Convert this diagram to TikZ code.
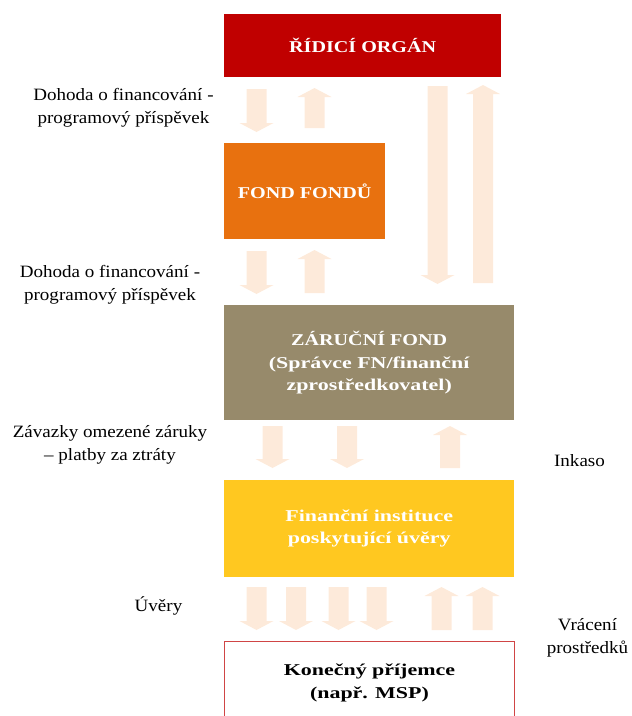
\documentclass[tikz,border=0pt]{standalone}
\usepackage{fontspec}
\setmainfont{Liberation Serif}[FakeStretch=1.1]
\newfontfamily\boxfont{Liberation Serif}[FakeStretch=1.22]
\newfontfamily\boxfontb{Liberation Serif}[FakeStretch=1.33]
\definecolor{roc}{HTML}{C00000}
\definecolor{ffc}{HTML}{E8710F}
\definecolor{zfc}{HTML}{978A6B}
\definecolor{fic}{HTML}{FFC820}
\definecolor{kpc}{HTML}{D04545}
\definecolor{arrc}{HTML}{FDEADA}
\newcommand\darr[3]{\fill[arrc] ({#1-10},#2) -- ({#1+10},#2) -- ({#1+10},{#3-9}) -- ({#1+17},{#3-9}) -- (#1,#3) -- ({#1-17},{#3-9}) -- ({#1-10},{#3-9}) -- cycle;}
\newcommand\uarr[3]{\fill[arrc] ({#1-10},#2) -- ({#1+10},#2) -- ({#1+10},{#3+9}) -- ({#1+17},{#3+9}) -- (#1,#3) -- ({#1-17},{#3+9}) -- ({#1-10},{#3+9}) -- cycle;}
\tikzset{
  box/.style={anchor=north west, inner sep=0pt, align=center, font=\boxfont\fontsize{16.5}{22.5}\selectfont\bfseries, text=white},
  boxb/.style={box, font=\boxfontb\fontsize{16.5}{22.5}\selectfont\bfseries},
  lbl/.style={inner sep=0pt, align=center, font=\fontsize{17.3}{22.5}\selectfont, text=black}
}
\begin{document}
\begin{tikzpicture}[x=1pt,y=-1pt]
\useasboundingbox (0,0) rectangle (632,716);
% arrows
\darr{256.5}{89}{132}
\uarr{314.5}{128}{88}
\darr{437.5}{86}{284}
\uarr{483}{283}{85}
\darr{256.5}{251}{294}
\uarr{314.5}{293}{250}
\darr{272.5}{426}{468}
\darr{347}{426}{468}
\uarr{450}{468}{426}
\darr{256.5}{587}{630}
\darr{296}{587}{630}
\darr{338.5}{587}{630}
\darr{376.5}{587}{630}
\uarr{441.5}{630}{587}
\uarr{482.5}{630}{587}
% boxes
\node[box, fill=roc, minimum width=277pt, minimum height=63pt] (ro) at (224,14) {ŘÍDICÍ ORGÁN};
\node[box, fill=ffc, minimum width=161pt, minimum height=96pt] (ff) at (224,143) {FOND FONDŮ};
\node[boxb, fill=zfc, minimum width=290pt, minimum height=115pt] (zf) at (224,305) {{\boxfont ZÁRUČNÍ FOND}\\(Správce FN/finanční\\zprostředkovatel)};
\node[boxb, fill=fic, minimum width=290pt, minimum height=97pt] (fi) at (224,480) {Finanční instituce\\poskytující úvěry};
\node[boxb, draw=kpc, line width=0.9pt, fill=white, text=black, minimum width=290pt, minimum height=83pt] (kp) at (224,641) {Konečný příjemce\\(např. MSP)};
% labels
\node[lbl] (l1) at (123.5,108) {Dohoda o financování -\\programový příspěvek};
\node[lbl] (l2) at (110,285) {Dohoda o financování -\\programový příspěvek};
\node[lbl] (l3) at (110,445) {Závazky omezené záruky\\– platby za ztráty};
\node[lbl] (l4) at (579.5,461) {Inkaso};
\node[lbl] (l5) at (158.5,606) {Úvěry};
\node[lbl] (l6) at (587.5,638) {Vrácení\\prostředků};
\end{tikzpicture}
\end{document}
